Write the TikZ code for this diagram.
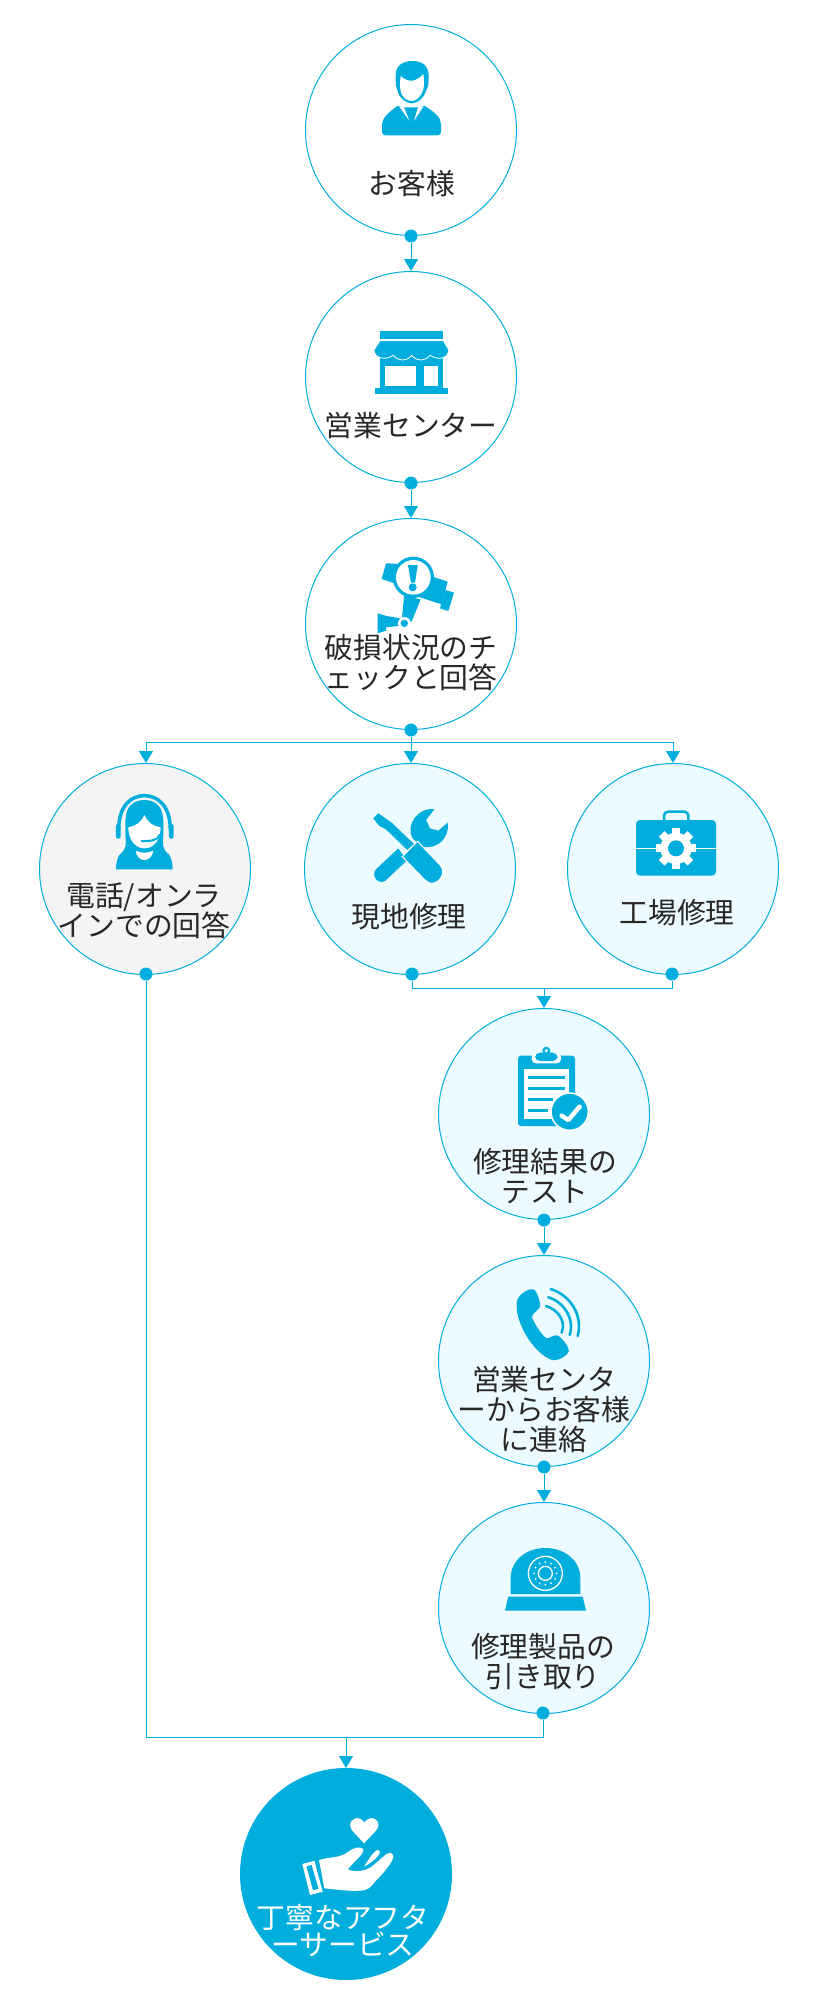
\documentclass[tikz,border=0pt]{standalone}
\usepackage{fontspec}
\usepackage{tikz}
\usetikzlibrary{arrows.meta}
\newfontfamily\jpfont{Noto Sans CJK JP}
\definecolor{svc-blue}{RGB}{0,174,221}
\definecolor{svc-pale}{RGB}{235,251,255}
\definecolor{svc-grey}{RGB}{244,244,244}
\definecolor{svc-ink}{RGB}{40,40,40}

\begin{document}
\begin{tikzpicture}[x=1pt,y=-1pt,
    stage/.style={circle,draw=svc-blue,line width=1pt,minimum size=211pt,inner sep=0pt},
    dotnode/.style={circle,fill=svc-blue,minimum size=13pt,inner sep=0pt},
    flow/.style={svc-blue,line width=1pt},
    flowto/.style={flow,-{Triangle[width=14pt,length=12pt]}},
    caption/.style={font=\jpfont\fontsize{28.8}{30}\selectfont,text=svc-ink,align=center,inner sep=0pt}]
    \useasboundingbox (0,0) rectangle (823,2000);

    \node[stage] (customer) at (411,130) {};
    \node[stage] (sales) at (411,377) {};
    \node[stage] (check) at (411,624) {};
    \node[stage,fill=svc-grey] (phone) at (145,869) {};
    \node[stage,fill=svc-pale] (onsite) at (410,869) {};
    \node[stage,fill=svc-pale] (factory) at (673,869) {};
    \node[stage,fill=svc-pale] (test) at (544,1114) {};
    \node[stage,fill=svc-pale] (notify) at (544,1361) {};
    \node[stage,fill=svc-pale] (pickup) at (544,1608) {};
    \node[stage,fill=svc-blue] (after) at (346,1874) {};

    \node[dotnode] (customerdot) at (customer.south) {};
    \node[dotnode] (salesdot) at (sales.south) {};
    \node[dotnode] (checkdot) at (check.south) {};
    \node[dotnode] (phonedot) at (146,974) {};
    \node[dotnode] (onsitedot) at (412,974) {};
    \node[dotnode] (factorydot) at (672,974) {};
    \node[dotnode] (testdot) at (test.south) {};
    \node[dotnode] (notifydot) at (notify.south) {};
    \node[dotnode] (pickupdot) at (543,1713) {};

    \coordinate (splitrow) at (411,742);
    \coordinate (mergerow) at (544,988);
    \coordinate (finalrow) at (346,1737);

    \draw[flowto] (customerdot) -- (sales.north);
    \draw[flowto] (salesdot) -- (check.north);
    \draw[flow] (checkdot) -- (splitrow);
    \draw[flow] (phonedot.north |- splitrow) -- (factory.north |- splitrow);
    \draw[flowto] (phonedot.north |- splitrow) -- (phone.north -| phonedot);
    \draw[flowto] (splitrow) -- (check.south |- onsite.north);
    \draw[flowto] (factory.north |- splitrow) -- (factory.north);
    \draw[flow] (onsitedot) |- (mergerow) -| (factorydot);
    \draw[flowto] (mergerow) -- (test.north);
    \draw[flowto] (testdot) -- (notify.north);
    \draw[flowto] (notifydot) -- (pickup.north);
    \draw[flow] (phonedot) |- (finalrow) -| (pickupdot);
    \draw[flowto] (finalrow) -- (after.north);

    \node[caption] (customertext) at (412,184) {お客様};
    \node[caption] (salestext) at (411,426) {営業センター};
    \node[caption] (checktext) at (411,663) {破損状況のチ\\ェックと回答};
    \node[caption] (phonetext) at (144,911) {電話/オンラ\\インでの回答};
    \node[caption] (onsitetext) at (409,917) {現地修理};
    \node[caption] (factorytext) at (677,913) {工場修理};
    \node[caption] (testtext) at (545,1176) {修理結果の\\テスト};
    \node[caption] (notifytext) at (544,1410) {営業センタ\\ーからお客様\\に連絡};
    \node[caption] (pickuptext) at (543,1662) {修理製品の\\引き取り};
    \node[caption,text=white,font=\jpfont\fontsize{28.8}{24}\selectfont] (aftertext) at (343,1931) {丁寧なアフタ\\ーサービス};

    \begin{scope}[shift={(280,0)},scale=1/3]
        \fill[svc-blue] (347,230) .. controls (345,195) and (370,183) .. (398,183) .. controls (430,183) and (448,200) .. (446,235) .. controls (446,250) and (445,262) .. (438,272) .. controls (432,295) and (412,310) .. (395,310) .. controls (378,310) and (358,295) .. (352,270) .. controls (347,260) and (347,245) .. (347,230) -- cycle;
        \fill[white] (362,228) .. controls (385,250) and (410,245) .. (430,222) .. controls (434,250) and (432,270) .. (425,280) .. controls (418,295) and (405,303) .. (395,303) .. controls (380,303) and (368,292) .. (363,278) .. controls (359,265) and (360,245) .. (362,228) -- cycle;
        \fill[svc-blue] (306,372) .. controls (308,350) and (330,335) .. (352,318) -- (372,322) -- (414,322) -- (435,318) .. controls (460,335) and (483,350) .. (483,372) -- (483,395) .. controls (483,402) and (480,406) .. (473,406) -- (316,406) .. controls (310,406) and (306,402) .. (306,395) -- cycle;
        \fill[white] (358,320) -- (372,322) -- (388,362) -- cycle;
        \fill[white] (430,320) -- (414,322) -- (402,362) -- cycle;

        \fill[svc-blue] (300,993) rectangle (490,1016);
        \fill[svc-blue] (300,1060) rectangle (490,1165);
        \fill[white] (316,1098) rectangle (408,1158);
        \fill[white] (432,1098) rectangle (474,1158);
        \fill[svc-blue] (285,1163) rectangle (503,1182);
        \filldraw[fill=svc-blue,draw=white,line width=0.8pt] (282,1050) .. controls (282,1070) and (310,1085) .. (340,1066) .. controls (355,1085) and (380,1085) .. (395,1066) .. controls (410,1085) and (435,1085) .. (450,1066) .. controls (480,1085) and (507,1070) .. (507,1050) -- (490,1022) -- (300,1022) -- cycle;
    \end{scope}

    \begin{scope}[shift={(280,510)},scale=1/3]
        \fill[svc-blue] (318,160) -- (305,207) -- (350,222) -- (420,262) -- (485,283) -- (503,215) -- (458,200) -- (440,165) -- cycle;
        \fill[svc-blue] (497,240) -- (522,248) -- (505,303) -- (480,295) -- cycle;
        \fill[svc-blue] (372,258) -- (422,268) -- (395,335) -- (365,335) -- cycle;
        \fill[svc-blue] (293,310) -- (320,318) -- (362,325) -- (354,348) -- (318,352) -- (318,362) -- (293,370) -- cycle;
        \fill[svc-blue] (400,202) circle (62);
        \fill[white] (400,202) circle (52);
        \fill[svc-blue] (384,165) -- (413,165) -- (405,218) -- (393,218) -- cycle;
        \fill[svc-blue] (398,232) circle (12);
        \fill[white] (373,340) circle (19);
        \fill[svc-blue] (373,340) circle (11);
    \end{scope}

    \begin{scope}[shift={(20,720)},scale=1/3]
        \draw[svc-blue,line width=3.5pt] (296,330) .. controls (296,255) and (335,227) .. (373,227) .. controls (412,227) and (451,255) .. (451,330);
        \fill[svc-blue,rounded corners=2pt] (288,312) rectangle (302,356);
        \fill[svc-blue,rounded corners=2pt] (447,312) rectangle (461,356);
        \fill[svc-blue] (373,240) .. controls (335,240) and (316,265) .. (316,305) -- (316,345) .. controls (318,375) and (322,385) .. (298,405) .. controls (292,415) and (288,430) .. (288,448) -- (458,448) .. controls (458,430) and (454,415) .. (448,405) .. controls (425,385) and (428,375) .. (430,345) -- (430,305) .. controls (430,265) and (411,240) .. (373,240) -- cycle;
        \fill[white] (373,285) .. controls (385,310) and (400,318) .. (422,322) .. controls (422,355) and (405,385) .. (373,385) .. controls (343,385) and (325,355) .. (325,322) .. controls (345,318) and (362,310) .. (373,285) -- cycle;
        \draw[svc-blue,line width=2pt,line cap=round] (418,345) .. controls (415,358) and (400,364) .. (365,363);
        \fill[white] (347,392) .. controls (358,400) and (388,400) .. (400,392) .. controls (398,410) and (385,420) .. (373,420) .. controls (360,420) and (350,410) .. (347,392) -- cycle;
    \end{scope}

    \begin{scope}[shift={(290,740)},scale=1/3]
        \fill[svc-blue] (325,325) -- (258,388) .. controls (243,405) and (262,435) .. (285,423) -- (350,362) -- cycle;
        \fill[svc-blue] (433,208) .. controls (385,200) and (345,255) .. (368,295) -- (395,320) .. controls (440,330) and (480,295) .. (473,248) -- (445,272) -- (420,265) -- (408,240) -- cycle;
        \fill[svc-blue] (250,235) -- (265,220) -- (305,248) -- (372,312) -- (352,330) -- (288,268) -- (268,258) -- cycle;
        \filldraw[fill=svc-blue,draw=white,line width=1pt] (337,350) -- (383,304) -- (450,375) .. controls (470,395) and (450,430) .. (425,430) .. controls (415,430) and (405,420) .. (398,413) -- cycle;

        \fill[svc-blue,rounded corners=4pt] (1038,240) rectangle (1278,407);
        \draw[svc-blue,line width=2.5pt,rounded corners=4pt] (1122,240) -- (1122,215) -- (1195,215) -- (1195,240);
        \draw[white,line width=1.5pt] (1038,325) -- (1278,325);
        \foreach \gearangle in {0,45,...,315}
            \fill[white,rotate around={\gearangle:(1158,325)}] (1146,264) rectangle (1170,290);
        \fill[white] (1158,325) circle (47);
        \fill[svc-blue] (1158,325) circle (24);
    \end{scope}

    \begin{scope}[shift={(420,1030)},scale=1/3]
        \fill[svc-blue,rounded corners=3pt] (294,77) rectangle (465,288);
        \fill[white] (313,117) rectangle (447,268);
        \fill[white,rounded corners=4pt] (335,70) rectangle (423,100);
        \fill[svc-blue,rounded corners=5pt] (345,68) rectangle (413,93);
        \fill[svc-blue] (379,62) circle (12);
        \fill[white] (379,62) circle (5);
        \draw[svc-blue,line width=3.3pt] (325,143) -- (435,143);
        \draw[svc-blue,line width=3.3pt] (325,176) -- (435,176);
        \draw[svc-blue,line width=3.3pt] (325,209) -- (400,209);
        \draw[svc-blue,line width=3.3pt] (325,242) -- (385,242);
        \filldraw[fill=svc-blue,draw=white,line width=1.5pt] (449,245) circle (56);
        \draw[white,line width=4.5pt,line cap=round,line join=round] (425,257) -- (445,270) -- (479,230);
    \end{scope}

    \begin{scope}[shift={(420,1270)},scale=1/3]
        \fill[svc-blue] (290,100) .. controls (288,80) and (320,55) .. (340,58) .. controls (352,62) and (362,100) .. (360,110) .. controls (355,122) and (335,130) .. (336,142) .. controls (345,165) and (365,195) .. (380,205) .. controls (390,205) and (402,192) .. (415,197) .. controls (425,205) and (445,225) .. (447,243) .. controls (440,258) and (420,272) .. (397,270) .. controls (345,255) and (285,160) .. (290,100) -- cycle;
        \draw[svc-blue,line width=2.6pt,line cap=round] (392,57) .. controls (450,75) and (490,135) .. (473,198);
        \draw[svc-blue,line width=2.6pt,line cap=round] (385,82) .. controls (430,95) and (465,145) .. (449,195);
        \draw[svc-blue,line width=2.6pt,line cap=round] (378,108) .. controls (410,118) and (440,150) .. (425,188);

        \fill[svc-blue] (272,972) -- (272,925) .. controls (272,870) and (320,834) .. (376,834) .. controls (432,834) and (481,870) .. (481,925) -- (481,972) -- cycle;
        \fill[svc-blue] (265,980) -- (488,980) -- (498,1022) -- (255,1022) -- cycle;
        \draw[white,line width=1.3pt] (376,910) circle (51);
        \draw[white,line width=1.3pt] (376,910) circle (21);
        \foreach \lensangle in {0,30,...,330}
            \fill[white] (376,910) ++(\lensangle:34) circle (3);
    \end{scope}

    \begin{scope}[shift={(220,1710)},scale=1/3]
        \fill[white] (432,400) -- (397,362) .. controls (380,340) and (400,318) .. (420,326) .. controls (427,329) and (431,334) .. (433,338) .. controls (435,334) and (440,329) .. (447,326) .. controls (467,318) and (486,340) .. (468,362) -- cycle;
        \fill[white,even odd rule] (247,462) -- (283,452) -- (308,545) -- (270,555) -- cycle (259,469) -- (275,464) -- (296,536) -- (279,541) -- cycle;
        \fill[white] (297,450) .. controls (330,440) and (360,445) .. (385,425) .. controls (400,412) and (425,408) .. (430,418) .. controls (433,430) and (410,447) .. (383,478) .. controls (410,490) and (440,480) .. (455,470) -- (490,440) .. controls (505,425) and (518,425) .. (520,438) .. controls (520,455) and (490,490) .. (465,515) .. controls (450,535) and (440,542) .. (420,542) .. controls (390,545) and (340,537) .. (313,535) -- cycle;
        \fill[white] (432,470) .. controls (445,450) and (462,420) .. (475,420) .. controls (490,422) and (470,450) .. (432,470) -- cycle;
    \end{scope}
\end{tikzpicture}
\end{document}
